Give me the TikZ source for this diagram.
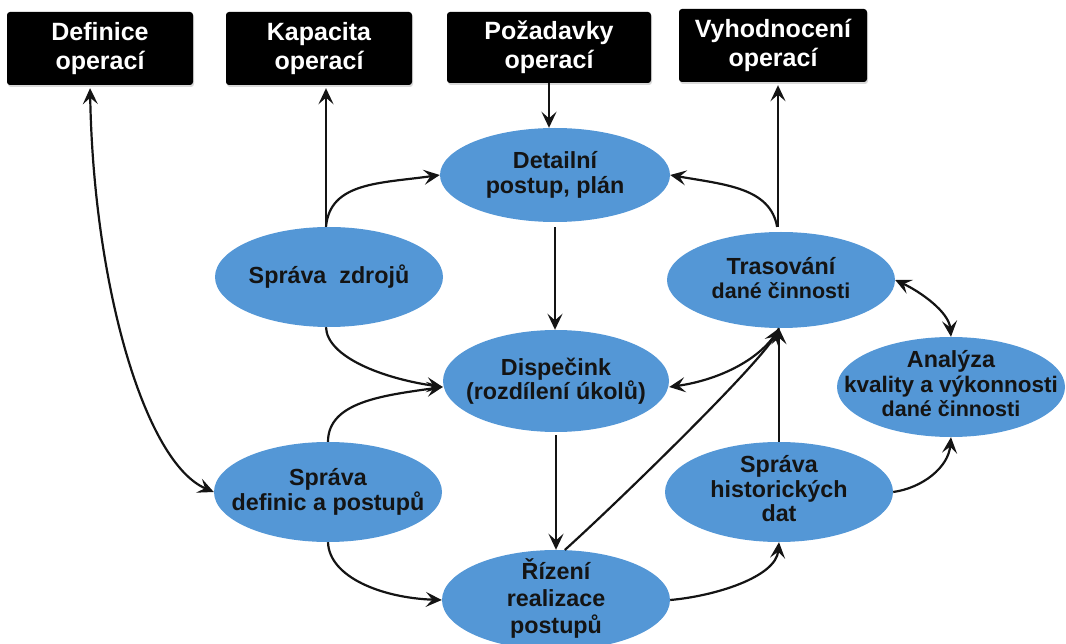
\documentclass[tikz,border=0pt]{standalone}
\usepackage{fontspec}
\setmainfont{Liberation Sans}
\usetikzlibrary{arrows.meta,shapes.geometric,shadows}
\definecolor{ovalblue}{RGB}{84,151,214}
\definecolor{inkdark}{RGB}{20,20,20}
\newcommand{\smallline}{\fontsize{21.5}{24.5}\selectfont}
\begin{document}
\begin{tikzpicture}[x=1pt,y=1pt,
  topbox/.style={fill=black, rounded corners=3pt, text=white,
    font=\bfseries\fontsize{25}{29}\selectfont, align=center,
    minimum width=186pt, minimum height=73pt, inner sep=0pt,
    drop shadow={shadow xshift=1pt, shadow yshift=-2pt, opacity=0.3}},
  oval/.style={ellipse, fill=ovalblue, minimum width=228pt,
    minimum height=100pt, inner sep=0pt},
  ovaltext/.style={font=\bfseries\fontsize{23.3}{24.5}\selectfont,
    align=center, text=inkdark, inner sep=0pt},
  tip/.tip={Stealth[length=16pt,width=15pt,inset=6.5pt]},
  link/.style={draw=inkdark, line width=2.2pt, -tip},
  bilink/.style={draw=inkdark, line width=2.2pt, tip-tip}
]
\useasboundingbox (0,0) rectangle (1066,643);
\clip (0,0) rectangle (1066,643);

% black header boxes
\node[topbox] (defo) at (100,594.5) {Definice\\operací};
\node[topbox] (kapo) at (319,594.5) {Kapacita\\operací};
\node[topbox, minimum width=204pt, minimum height=71pt] (pozo) at (549,595.5) {Požadavky\\operací};
\node[topbox, minimum width=188pt] (vyho) at (773,597.5) {Vyhodnocení\\operací};

% blue ovals
\node[oval, minimum width=230pt, minimum height=94pt] (det) at (555,468) {};
\node[oval] (zdr) at (329,366) {};
\node[oval, minimum width=226pt, minimum height=102pt] (dis) at (556,262) {};
\node[oval, minimum height=96pt] (tra) at (781,363) {};
\node[oval] (ana) at (951,256) {};
\node[oval] (def) at (328,151) {};
\node[oval] (his) at (779,151) {};
\node[oval] (riz) at (556,43) {};

% oval captions
\node[ovaltext] (det-t) at (det) {Detailní\\postup, plán};
\node[ovaltext] (zdr-t) at (zdr) {Správa~ zdrojů};
\node[ovaltext] (dis-t) at (dis) {Dispečink\\(rozdílení úkolů)};
\node[ovaltext] (tra-t) at ([yshift=2pt]tra.center) {Trasování\\{\smallline dané činnosti}};
\node[ovaltext] (ana-t) at ([yshift=3pt]ana.center) {Analýza\\{\fontsize{22.5}{24.5}\selectfont kvality a výkonnosti}\\{\smallline dané činnosti}};
\node[ovaltext] (def-t) at (def) {Správa\\definic a postupů};
\node[ovaltext] (his-t) at ([yshift=3pt]his.center) {Správa\\historických\\dat};
\node[ovaltext, font=\bfseries\fontsize{23.3}{27}\selectfont] (riz-t) at ([yshift=2pt]riz.center) {Řízení\\realizace\\postupů};

% connection points shared by several arrows
\coordinate (zdrtop) at ([xshift=-3pt]zdr.north);
\coordinate (tratop) at ([xshift=-3pt]tra.north);
\coordinate (trabot) at ([xshift=-2pt]tra.south);
\coordinate (disin) at ([yshift=-6pt]dis.west);
\coordinate (disout) at ([yshift=-6pt]dis.east);

% connectors
\draw[bilink, shorten <=3pt] ([xshift=-10pt]defo.south) to[out=-89, in=157, out distance=200pt, in distance=75pt] (def.west);
\draw[link, shorten >=3pt] (zdrtop) -- (zdrtop |- kapo.south);
\draw[link] (zdrtop) to[out=85, in=188, out distance=45pt, in distance=60pt] (det.west);
\draw[link] (pozo.south) -- (pozo.south |- det.north);
\draw[link, shorten <=5pt] (det.south) -- (det.south |- dis.north);
\draw[link, shorten <=5pt, shorten >=3pt] (tratop) -- (tratop |- vyho.south);
\draw[link, shorten <=5pt] (tratop) to[out=100, in=-10, out distance=45pt, in distance=55pt] (det.east);
\draw[link] ([xshift=-3pt]zdr.south) to[out=-88, in=172, out distance=30pt, in distance=60pt] (disin);
\draw[link] (def.north) to[out=90, in=188, out distance=40pt, in distance=60pt] (disin);
\draw[link, shorten <=3pt] (dis.south) -- (dis.south |- riz.north);
\draw[link] (def.south) to[out=-88, in=178, out distance=35pt, in distance=60pt] (riz.west);
\draw[link] (riz.80) to[out=42, in=-118, out distance=70pt, in distance=40pt] (trabot);
\draw[link] (trabot) to[out=-118, in=8, out distance=35pt, in distance=50pt] (disout);
\draw[link] (his.north) -- (his.north |- trabot);
\draw[bilink] (tra.east) to[out=-25, in=95, out distance=28pt, in distance=25pt] (ana.north);
\draw[link] (his.east) to[out=8, in=-95, out distance=30pt, in distance=30pt] (ana.south);
\draw[link] (riz.east) to[out=5, in=-95, out distance=45pt, in distance=35pt] (his.south);
\end{tikzpicture}
\end{document}
